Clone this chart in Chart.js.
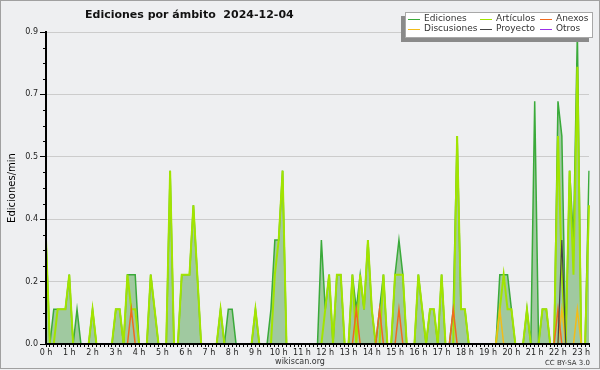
<!DOCTYPE html>
<html>
<head>
<meta charset="utf-8">
<title>Ediciones por ámbito</title>
<script src="https://cdn.jsdelivr.net/npm/chart.js@4.4.1/dist/chart.umd.min.js"></script>
<style>
  html, body { margin: 0; padding: 0; background: #eeeff1; }
  canvas { display: block; }
</style>
</head>
<body>
<canvas id="chart" width="600" height="370"></canvas>
<script>
const FONT = 'DejaVu Sans';

// hour labels on the x axis, one every 6 slots of 10 min
const hourLabels = ['0 h', '1 h', '2 h', '3 h', '4 h', '5 h', '6 h', '7 h', '8 h', '9 h', '10 h', '11 h',
  '12 h', '13 h', '14 h', '15 h', '16 h', '17 h', '18 h', '19 h', '20 h', '21 h', '22 h', '23 h'];
const yTicks = [0, 0.18, 0.36, 0.54, 0.72, 0.9];

// edits per minute, 10 min slots from 00:00 to 23:20 (12 slots per row = 2 h)
const ediciones = [
  0.3, 0, 0.1, 0.1, 0.1, 0.1, 0.2, 0, 0.1, 0, 0, 0,
  0.1, 0, 0, 0, 0, 0, 0.1, 0.1, 0, 0.2, 0.2, 0.2,
  0, 0, 0, 0.2, 0.1, 0, 0, 0, 0.5, 0, 0, 0.2,
  0.2, 0.2, 0.4, 0.2, 0, 0, 0, 0, 0, 0.1, 0, 0.1,
  0.1, 0, 0, 0, 0, 0, 0.1, 0, 0, 0, 0.1, 0.3,
  0.3, 0.5, 0, 0, 0, 0, 0, 0, 0, 0, 0, 0.3,
  0.1, 0.2, 0, 0.2, 0.2, 0, 0, 0.2, 0.1, 0.2, 0.1, 0.3,
  0.1, 0, 0.1, 0.2, 0, 0, 0.2, 0.3, 0.2, 0, 0, 0,
  0.2, 0.1, 0, 0.1, 0.1, 0, 0.2, 0, 0, 0.1, 0.6, 0.1,
  0.1, 0, 0, 0, 0, 0, 0, 0, 0, 0.2, 0.2, 0.2,
  0.1, 0, 0, 0, 0.1, 0, 0.7, 0, 0.1, 0.1, 0, 0,
  0.7, 0.6, 0, 0.5, 0.3, 0.9, 0, 0, 0.5
];
const articulos = [
  0.3, 0, 0, 0.1, 0.1, 0.1, 0.2, 0, 0, 0, 0, 0,
  0.1, 0, 0, 0, 0, 0, 0.1, 0.1, 0, 0.2, 0.1, 0.1,
  0, 0, 0, 0.2, 0.1, 0, 0, 0, 0.5, 0, 0, 0.2,
  0.2, 0.2, 0.4, 0.2, 0, 0, 0, 0, 0, 0.1, 0, 0,
  0, 0, 0, 0, 0, 0, 0.1, 0, 0, 0, 0, 0.2,
  0.3, 0.5, 0, 0, 0, 0, 0, 0, 0, 0, 0, 0,
  0.1, 0.2, 0, 0.2, 0.2, 0, 0, 0.2, 0, 0.2, 0.1, 0.3,
  0.1, 0, 0, 0.2, 0, 0, 0.2, 0.2, 0.2, 0, 0, 0,
  0.2, 0.1, 0, 0.1, 0.1, 0, 0.2, 0, 0, 0, 0.6, 0.1,
  0.1, 0, 0, 0, 0, 0, 0, 0, 0, 0.1, 0.2, 0.1,
  0.1, 0, 0, 0, 0.1, 0, 0, 0, 0.1, 0.1, 0, 0,
  0.6, 0.2, 0, 0.5, 0.2, 0.8, 0, 0, 0.4
];
const anexos = [
  0, 0, 0, 0, 0, 0, 0, 0, 0, 0, 0, 0,
  0, 0, 0, 0, 0, 0, 0, 0, 0, 0, 0.1, 0,
  0, 0, 0, 0, 0, 0, 0, 0, 0, 0, 0, 0,
  0, 0, 0, 0, 0, 0, 0, 0, 0, 0, 0, 0,
  0, 0, 0, 0, 0, 0, 0, 0, 0, 0, 0, 0,
  0, 0, 0, 0, 0, 0, 0, 0, 0, 0, 0, 0,
  0, 0, 0, 0, 0, 0, 0, 0, 0.1, 0, 0, 0,
  0, 0, 0.1, 0, 0, 0, 0, 0.1, 0, 0, 0, 0,
  0, 0, 0, 0, 0, 0, 0, 0, 0, 0.1, 0, 0,
  0, 0, 0, 0, 0, 0, 0, 0, 0, 0, 0, 0,
  0, 0, 0, 0, 0, 0, 0, 0, 0, 0, 0, 0,
  0.1, 0, 0, 0, 0, 0, 0, 0, 0
];
const discusiones = [
  0, 0, 0, 0, 0, 0, 0, 0, 0, 0, 0, 0,
  0, 0, 0, 0, 0, 0, 0, 0, 0, 0, 0, 0,
  0, 0, 0, 0, 0, 0, 0, 0, 0, 0, 0, 0,
  0, 0, 0, 0, 0, 0, 0, 0, 0, 0, 0, 0,
  0, 0, 0, 0, 0, 0, 0, 0, 0, 0, 0, 0,
  0, 0, 0, 0, 0, 0, 0, 0, 0, 0, 0, 0,
  0, 0, 0, 0, 0, 0, 0, 0, 0, 0, 0, 0,
  0, 0, 0, 0, 0, 0, 0, 0, 0, 0, 0, 0,
  0, 0, 0, 0, 0, 0, 0, 0, 0, 0, 0, 0,
  0, 0, 0, 0, 0, 0, 0, 0, 0, 0.1, 0, 0,
  0, 0, 0, 0, 0, 0, 0, 0, 0, 0, 0, 0,
  0, 0.1, 0, 0, 0, 0.1, 0, 0, 0
];
const proyecto = [
  0, 0, 0, 0, 0, 0, 0, 0, 0, 0, 0, 0,
  0, 0, 0, 0, 0, 0, 0, 0, 0, 0, 0, 0,
  0, 0, 0, 0, 0, 0, 0, 0, 0, 0, 0, 0,
  0, 0, 0, 0, 0, 0, 0, 0, 0, 0, 0, 0,
  0, 0, 0, 0, 0, 0, 0, 0, 0, 0, 0, 0,
  0, 0, 0, 0, 0, 0, 0, 0, 0, 0, 0, 0,
  0, 0, 0, 0, 0, 0, 0, 0, 0, 0, 0, 0,
  0, 0, 0, 0, 0, 0, 0, 0, 0, 0, 0, 0,
  0, 0, 0, 0, 0, 0, 0, 0, 0, 0, 0, 0,
  0, 0, 0, 0, 0, 0, 0, 0, 0, 0, 0, 0,
  0, 0, 0, 0, 0, 0, 0, 0, 0, 0, 0, 0,
  0, 0.3, 0, 0, 0, 0, 0, 0, 0
];
const otros = [
  0, 0, 0, 0, 0, 0, 0, 0, 0, 0, 0, 0,
  0, 0, 0, 0, 0, 0, 0, 0, 0, 0, 0, 0,
  0, 0, 0, 0, 0, 0, 0, 0, 0, 0, 0, 0,
  0, 0, 0, 0, 0, 0, 0, 0, 0, 0, 0, 0,
  0, 0, 0, 0, 0, 0, 0, 0, 0, 0, 0, 0,
  0, 0, 0, 0, 0, 0, 0, 0, 0, 0, 0, 0,
  0, 0, 0, 0, 0, 0, 0, 0, 0, 0, 0, 0,
  0, 0, 0, 0, 0, 0, 0, 0, 0, 0, 0, 0,
  0, 0, 0, 0, 0, 0, 0, 0, 0, 0, 0, 0,
  0, 0, 0, 0, 0, 0, 0, 0, 0, 0, 0, 0,
  0, 0, 0, 0, 0, 0, 0, 0, 0, 0, 0, 0,
  0, 0, 0, 0, 0, 0, 0, 0, 0
];

// slot labels hh:mm
const slots = ediciones.map((_, i) =>
  String(Math.floor(i / 6)).padStart(2, '0') + ':' + String((i % 6) * 10).padStart(2, '0'));

function line(label, data, color, width, order, extra) {
  return Object.assign({
    label, data, order,
    borderColor: color,
    borderWidth: width,
    pointRadius: 0,
    tension: 0,
    fill: false,
  }, extra || {});
}

// background, title, legend box, credits and minor y ticks
const decor = {
  id: 'decor',
  beforeDraw(chart) {
    const { ctx, width, height } = chart;
    ctx.save();
    ctx.fillStyle = '#eeeff1';
    ctx.fillRect(0, 0, width, height);
    ctx.restore();
  },
  afterDraw(chart) {
    const { ctx, width, chartArea, scales: { y } } = chart;
    ctx.save();

    // minor ticks, 4 per grid step
    ctx.strokeStyle = '#000';
    ctx.lineWidth = 1;
    for (let k = 0; k < yTicks.length - 1; k++) {
      const step = (yTicks[k + 1] - yTicks[k]) / 4;
      for (let j = 1; j < 4; j++) {
        const py = Math.round(y.getPixelForValue(yTicks[k] + j * step)) + 0.5;
        ctx.beginPath();
        ctx.moveTo(chartArea.left - 3, py);
        ctx.lineTo(chartArea.left, py);
        ctx.stroke();
      }
    }

    // title
    ctx.fillStyle = '#111';
    ctx.font = 'bold 11px "' + FONT + '"';
    ctx.textBaseline = 'alphabetic';
    ctx.textAlign = 'left';
    ctx.fillText('Ediciones por ámbito  2024-12-04', 85, 18);

    // legend box with shadow
    ctx.fillStyle = '#8a8a8a';
    ctx.fillRect(401, 16, 188, 26);
    ctx.fillStyle = '#ffffff';
    ctx.fillRect(405, 12, 188, 26);
    ctx.strokeStyle = '#a8a8a8';
    ctx.strokeRect(405.5, 12.5, 187, 25);

    const cols = [408, 480, 540];
    const rows = [19, 29];
    ctx.font = '9px "' + FONT + '"';
    ctx.textBaseline = 'middle';
    chart.data.datasets.forEach((ds, i) => {
      const cx = cols[i % 3];
      const cy = rows[Math.floor(i / 3)];
      ctx.strokeStyle = ds.borderColor;
      ctx.lineWidth = 1;
      ctx.beginPath();
      ctx.moveTo(cx, cy + 0.5);
      ctx.lineTo(cx + 12, cy + 0.5);
      ctx.stroke();
      ctx.fillStyle = '#333';
      ctx.fillText(ds.label, cx + 16, cy);
    });

    // credits
    ctx.fillStyle = '#333';
    ctx.textBaseline = 'alphabetic';
    ctx.font = '8px "' + FONT + '"';
    ctx.textAlign = 'center';
    ctx.fillText('wikiscan.org', 300, 364);
    ctx.font = '7px "' + FONT + '"';
    ctx.textAlign = 'right';
    ctx.fillText('CC BY-SA 3.0', 590, 365);

    // frame
    ctx.strokeStyle = '#a0a0a0';
    ctx.lineWidth = 1;
    ctx.strokeRect(0.5, 0.5, width - 1, 368);
    ctx.restore();
  }
};

new Chart(document.getElementById('chart'), {
  type: 'line',
  data: {
    labels: slots,
    datasets: [
      line('Ediciones', ediciones, '#3aaa3a', 1.5, 6, { fill: 'origin', backgroundColor: '#a0c9a0' }),
      line('Artículos', articulos, '#a2e400', 2, 5),
      line('Anexos', anexos, '#f06a1e', 1.5, 1),
      line('Discusiones', discusiones, '#f2bc1a', 1.5, 2),
      line('Proyecto', proyecto, '#444444', 1.2, 0),
      line('Otros', otros, '#9b30e8', 1.2, 3),
    ],
  },
  options: {
    responsive: false,
    animation: false,
    devicePixelRatio: 1,
    layout: { padding: { top: 32, right: 11, bottom: 0, left: 0 } },
    plugins: {
      legend: { display: false },
      tooltip: { enabled: false },
    },
    scales: {
      x: {
        type: 'category',
        offset: false,
        grid: { drawOnChartArea: false, tickLength: 3, tickColor: '#000', offset: false },
        border: { color: '#000', width: 2, z: 1 },
        ticks: {
          autoSkip: false,
          maxRotation: 0,
          minRotation: 0,
          padding: 1,
          color: '#222',
          font: { family: FONT, size: 8 },
          callback: (v, i) => (i % 6 === 0 ? hourLabels[i / 6] : ''),
        },
        afterFit: (s) => { s.height = 26; },
      },
      y: {
        min: 0,
        max: 0.9,
        afterBuildTicks: (s) => { s.ticks = yTicks.map((v) => ({ value: v })); },
        grid: { color: '#cccccc', tickColor: '#000', tickLength: 6 },
        border: { color: '#000', width: 2, z: 1 },
        ticks: {
          padding: 2,
          color: '#222',
          font: { family: FONT, size: 8 },
          callback: (v) => v.toFixed(1),
        },
        title: {
          display: true,
          text: 'Ediciones/min',
          color: '#000',
          font: { family: FONT, size: 10 },
          padding: { top: 6, bottom: 0 },
        },
        afterFit: (s) => { s.width = 46; },
      },
    },
  },
  plugins: [decor],
});
</script>
</body>
</html>
